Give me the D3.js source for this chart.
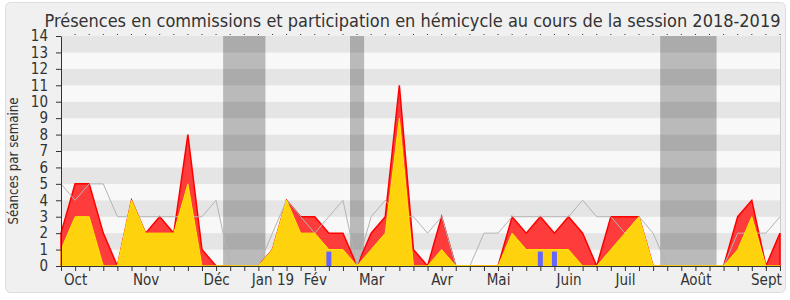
<!DOCTYPE html>
<html><head><meta charset="utf-8">
<script src="https://cdn.jsdelivr.net/npm/d3@7"></script>
<style>
html,body{margin:0;padding:0;background:#fff;}
svg{display:block;font-family:"DejaVu Sans Condensed","DejaVu Sans",sans-serif;font-stretch:condensed;}
</style></head>
<body><svg id="c" width="790" height="300"></svg>
<script>
// week index 0..51 (session 2018-2019, weekly)
const weeks = d3.range(52);
const totalPresence = [2,5,5,2,0,4,2,3,2,8,1,0,0,0,0,1,4,3,3,2,2,0,2,3,11,1,0,3,0,0,0,0,3,2,3,2,3,2,0,3,3,3,0,0,0,0,0,0,3,4,0,2];
const commissionPresence = [1,3,3,0,0,4,2,2,2,5,0,0,0,0,0,1,4,2,2,1,1,0,1,2,9,0,0,1,0,0,0,0,2,1,1,1,1,0,0,1,2,3,0,0,0,0,0,0,1,3,0,0];
const medianPresence = [5,4,5,5,3,3,3,3,3,3,3,4,0,0,0,2,4,3,2,3,4,0,3,4,3,3,2,3,0,0,2,2,3,3,3,3,3,4,3,3,2,3,2,0,0,0,0,0,2,2,2,3];
const questionWeeks = [19,34,35];
const questionValues = [1,1,1];
const vacationStarts = [11.5,20.5,42.5];
const vacationEnds = [14.5,21.5,46.5];
const monthLabels = ["Oct","Nov","Déc","Jan 19","Fév","Mar","Avr","Mai","Juin","Juil","Août","Sept"];
const monthWeeks = [1,6,11,15,18,22,27,31,36,40,45,50];
const yTicks = d3.range(0,15);
const title = "Présences en commissions et participation en hémicycle au cours de la session 2018-2019";
const yTitle = "Séances par semaine";

const svg = d3.select("#c");
const L=61, R=780, T=36, B=266;
const x = d3.scaleLinear().domain([0,51]).range([L,R]);
const y = d3.scaleLinear().domain([0,14]).range([B,T]);

// panel
svg.append("rect").attr("x",5.5).attr("y",2.5).attr("width",780).attr("height",290)
  .attr("rx",5).attr("fill","#f0f0f0").attr("stroke","#dddddd");

// stripes
svg.append("g").selectAll("rect").data(d3.range(14)).join("rect")
  .attr("x",L).attr("width",R-L)
  .attr("y",d=>y(d+1)).attr("height",d=>y(d)-y(d+1))
  .attr("fill",d=>d%2===1?"#e5e5e5":"#f8f8f8");

// vacations
svg.append("g").selectAll("rect").data(vacationStarts).join("rect")
  .attr("x",d=>x(d)).attr("width",(d,i)=>x(vacationEnds[i])-x(d))
  .attr("y",T).attr("height",B-T).attr("fill","rgba(0,0,0,0.25)");

// right border
svg.append("line").attr("x1",R+0.5).attr("x2",R+0.5).attr("y1",T).attr("y2",B).attr("stroke","#cccccc");

// red area
const areaRed = d3.area().x((d,i)=>x(i)).y0(y(0)).y1(d=>y(d));
svg.append("path").datum(totalPresence).attr("d",areaRed)
  .attr("fill","#ff3c3c").attr("stroke","#ff0000").attr("stroke-width",1.5).attr("stroke-linejoin","miter");

// median line
svg.append("path").datum(medianPresence).attr("d",d3.line().x((d,i)=>x(i)).y(d=>y(d)))
  .attr("fill","none").attr("stroke","#b4b4b4").attr("stroke-width",1);

// yellow area
svg.append("path").datum(commissionPresence).attr("d",areaRed)
  .attr("fill","#ffd20e").attr("stroke","#ffea00").attr("stroke-width",1);

// question bars
svg.append("g").selectAll("rect").data(questionWeeks).join("rect")
  .attr("x",d=>x(d)-2.5).attr("width",5)
  .attr("y",(d,i)=>y(questionValues[i])+2).attr("height",(d,i)=>y(0)-y(questionValues[i])-2)
  .attr("fill","#6464ff");

// bottom axis
const xAxis = d3.axisBottom(x).tickValues(weeks).tickSize(5).tickSizeOuter(0)
  .tickFormat(d=>{const k=monthWeeks.indexOf(d);return k>=0?monthLabels[k]:"";});
const gx = svg.append("g").attr("transform",`translate(0,${B})`).call(xAxis);
gx.select(".domain").attr("stroke","#333");
gx.selectAll(".tick line").attr("stroke","#333");
gx.selectAll("text").attr("fill","#333").attr("font-size",15)
  .attr("font-family","'DejaVu Sans Condensed','DejaVu Sans',sans-serif");

// top tick dots
svg.append("g").selectAll("rect").data(weeks.slice(1)).join("rect")
  .attr("x",d=>x(d)-0.5).attr("y",T-2).attr("width",1).attr("height",1).attr("fill","#333");

// left axis
const yAxis = d3.axisLeft(y).tickValues(yTicks).tickSize(5).tickPadding(8).tickSizeOuter(0).tickFormat(d3.format("d"));
const gy = svg.append("g").attr("transform",`translate(${L},0)`).call(yAxis);
gy.select(".domain").attr("stroke","#333");
gy.selectAll(".tick line").attr("stroke","#333");
gy.selectAll("text").attr("fill","#333").attr("font-size",15)
  .attr("font-family","'DejaVu Sans Condensed','DejaVu Sans',sans-serif");

// title
svg.append("text").attr("x",44.5).attr("y",26.5).attr("font-size",17.5).attr("fill","#333")
  .attr("textLength",736).attr("lengthAdjust","spacingAndGlyphs").text(title);

// y title
svg.append("text").attr("transform","translate(17.5,161) rotate(-90)").attr("text-anchor","middle")
  .attr("font-size",14).attr("fill","#333")
  .attr("textLength",127).attr("lengthAdjust","spacingAndGlyphs").text(yTitle);
</script></body></html>
